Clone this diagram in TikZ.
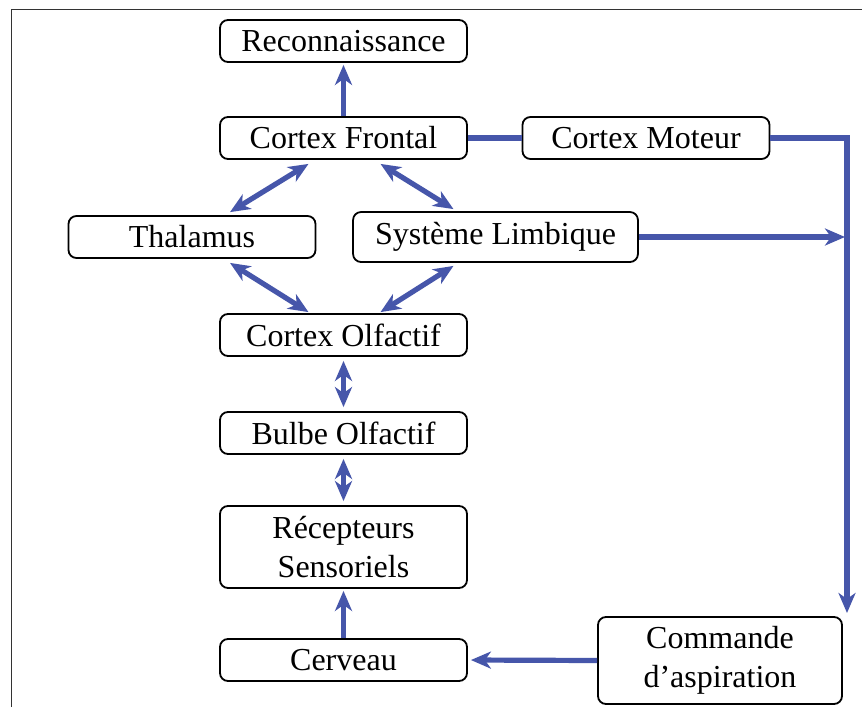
\documentclass[tikz,border=0pt]{standalone}
\usepackage{fontspec}
\setmainfont{Liberation Serif}
\usetikzlibrary{arrows.meta}
\definecolor{arrblue}{RGB}{70,86,170}
\begin{document}
\begin{tikzpicture}[x=0.5pt,y=-0.5pt,
 box/.style={draw=black, line width=0.9pt, rounded corners=4pt, minimum width=123.5pt, minimum height=21pt, inner sep=3pt, font=\fontsize{16}{19.5}\selectfont, align=center},
 conn/.style={draw=arrblue, line width=2.6pt},
 tip/.tip={Stealth[length=10pt,width=8.5pt,inset=3pt]},
 one/.style={conn, -tip},
 both/.style={conn, tip-tip},
]
\useasboundingbox (0,0) rectangle (862,707);
\draw[line width=0.5pt, black!80] (11,707) -- (11,9) -- (862,9);

\node[box] (rec) at (343.5,41) {Reconnaissance};
\node[box] (cf) at (343.5,138) {Cortex Frontal};
\node[box] (cm) at (646,138) {Cortex Moteur};
\node[box] (th) at (192,237) {Thalamus};
\node[box, minimum width=0pt, minimum height=25pt, inner xsep=11pt] (sl) at (495.5,237) {Système Limbique};
\node[box] (co) at (343.5,335) {Cortex Olfactif};
\node[box] (bo) at (343.5,433) {Bulbe Olfactif};
\node[box, minimum height=41pt] (rs) at (343.5,547) {Récepteurs\\Sensoriels};
\node[box] (ce) at (343.5,660) {Cerveau};
\node[box, minimum width=122pt, minimum height=43.5pt] (cmd) at (720,660.5) {Commande\\d’aspiration};

\coordinate (turn) at (847,138);
\coordinate (drop) at (847,613);
\coordinate (join) at (845,237);

\draw[one, shorten >=1pt] (cf.north) -- (rec.south);
\draw[conn] (cf.east) -- (cm.west);
\draw[one] (cm.east) -- (turn) -- (drop);
\draw[one] (sl.east) -- (join);
\draw[both] ([xshift=-17.5pt,yshift=-2pt]cf.south) -- ([xshift=19pt,yshift=1.5pt]th.north);
\draw[both] ([xshift=18.5pt,yshift=-2pt]cf.south) -- ([xshift=-21pt,yshift=1pt]sl.north);
\draw[both] ([xshift=19pt,yshift=-2pt]th.south) -- ([xshift=-17.5pt,yshift=0.5pt]co.north);
\draw[both] ([xshift=-21pt,yshift=-1.5pt]sl.south) -- ([xshift=18.5pt,yshift=0.5pt]co.north);
\draw[both, shorten <=2pt, shorten >=2pt] (co.south) -- (bo.north);
\draw[both, shorten <=2pt, shorten >=2pt] (bo.south) -- (rs.north);
\draw[one, shorten >=1pt] (ce.north) -- (rs.south);
\draw[one, shorten >=1.5pt] (cmd.west) -- (ce.east);
\end{tikzpicture}
\end{document}
